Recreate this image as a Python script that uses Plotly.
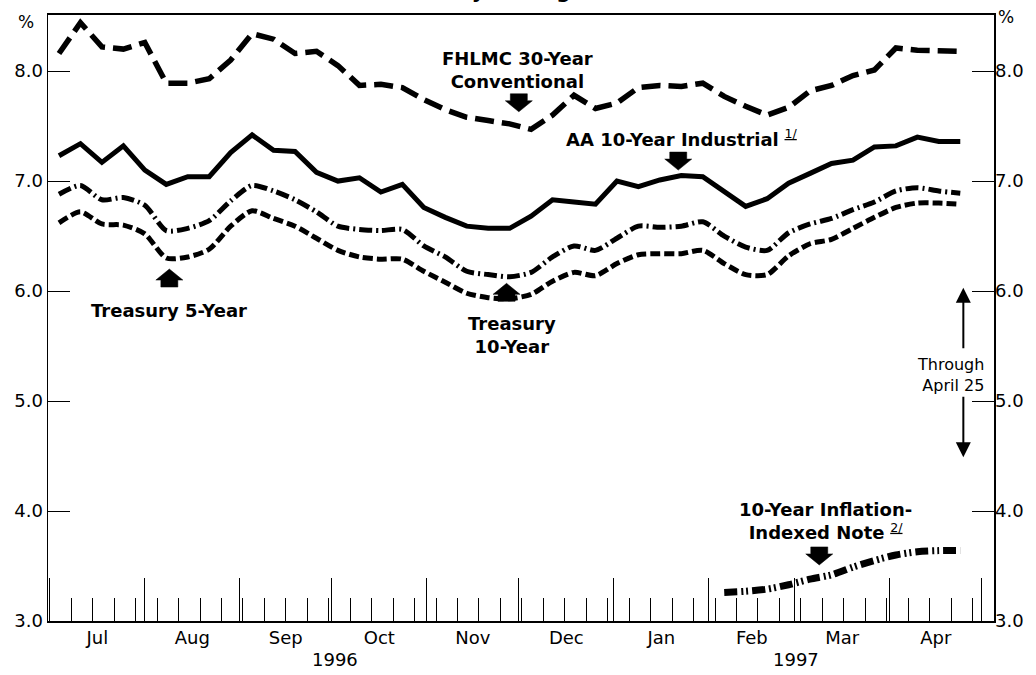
import plotly.graph_objects as go

# ---- data (weekly, Thursdays) ----
dates = ["1996-07-04", "1996-07-11", "1996-07-18", "1996-07-25", "1996-08-01", "1996-08-08",
         "1996-08-15", "1996-08-22", "1996-08-29", "1996-09-05", "1996-09-12", "1996-09-19",
         "1996-09-26", "1996-10-03", "1996-10-10", "1996-10-17", "1996-10-24", "1996-10-31",
         "1996-11-07", "1996-11-14", "1996-11-21", "1996-11-28", "1996-12-05", "1996-12-12",
         "1996-12-19", "1996-12-26", "1997-01-02", "1997-01-09", "1997-01-16", "1997-01-23",
         "1997-01-30", "1997-02-06", "1997-02-13", "1997-02-20", "1997-02-27", "1997-03-06",
         "1997-03-13", "1997-03-20", "1997-03-27", "1997-04-03", "1997-04-10", "1997-04-17",
         "1997-04-24"]

fhlmc_30yr = [8.16, 8.44, 8.22, 8.20, 8.26, 7.89, 7.89, 7.93, 8.10, 8.34, 8.29, 8.16,
              8.18, 8.05, 7.87, 7.88, 7.85, 7.74, 7.65, 7.58, 7.55, 7.52, 7.47, 7.60,
              7.78, 7.66, 7.71, 7.85, 7.87, 7.86, 7.89, 7.77, 7.68, 7.60, 7.67, 7.82,
              7.87, 7.96, 8.01, 8.21, 8.19, 8.19, 8.18]

aa_10yr = [7.23, 7.34, 7.17, 7.32, 7.10, 6.97, 7.04, 7.04, 7.26, 7.42, 7.28, 7.27,
           7.08, 7.00, 7.03, 6.90, 6.97, 6.76, 6.67, 6.59, 6.57, 6.57, 6.68, 6.83,
           6.81, 6.79, 7.00, 6.95, 7.01, 7.05, 7.04, 6.91, 6.77, 6.84, 6.98, 7.07,
           7.16, 7.19, 7.31, 7.32, 7.40, 7.36, 7.36]

treasury_10yr = [6.88, 6.96, 6.83, 6.85, 6.78, 6.55, 6.57, 6.64, 6.82, 6.96, 6.91, 6.83,
                 6.72, 6.59, 6.56, 6.55, 6.56, 6.41, 6.31, 6.18, 6.15, 6.13, 6.17, 6.31,
                 6.41, 6.37, 6.48, 6.59, 6.58, 6.59, 6.63, 6.50, 6.40, 6.37, 6.53, 6.61,
                 6.66, 6.74, 6.81, 6.91, 6.94, 6.91, 6.89]

treasury_5yr = [6.62, 6.72, 6.61, 6.60, 6.52, 6.30, 6.31, 6.38, 6.59, 6.73, 6.66, 6.59,
                6.48, 6.37, 6.31, 6.29, 6.29, 6.18, 6.08, 5.98, 5.94, 5.93, 5.97, 6.09,
                6.17, 6.14, 6.25, 6.33, 6.34, 6.34, 6.37, 6.25, 6.15, 6.15, 6.32, 6.43,
                6.47, 6.57, 6.67, 6.76, 6.80, 6.80, 6.79]

tips_dates = ["1997-02-06", "1997-02-13", "1997-02-20", "1997-02-27", "1997-03-06", "1997-03-13",
              "1997-03-20", "1997-03-27", "1997-04-03", "1997-04-10", "1997-04-17", "1997-04-24"]
tips_10yr = [3.26, 3.27, 3.29, 3.33, 3.38, 3.42, 3.49, 3.55, 3.60, 3.63, 3.64, 3.64]

y_ticks = [3.0, 4.0, 5.0, 6.0, 7.0, 8.0]

FONT = "DejaVu Sans"
BLACK = "black"

fig = go.Figure()

fig.add_trace(go.Scatter(x=dates, y=fhlmc_30yr, mode="lines", hoverinfo="skip",
                         line=dict(color=BLACK, width=5.5, dash="19px,8px")))
fig.add_trace(go.Scatter(x=dates, y=aa_10yr, mode="lines", hoverinfo="skip",
                         line=dict(color=BLACK, width=5)))
fig.add_trace(go.Scatter(x=dates, y=treasury_10yr, mode="lines", hoverinfo="skip",
                         line=dict(color=BLACK, width=5, dash="13px,4px,2px,4px",
                                   shape="spline", smoothing=0.7)))
fig.add_trace(go.Scatter(x=dates, y=treasury_5yr, mode="lines", hoverinfo="skip",
                         line=dict(color=BLACK, width=5, dash="10px,4px",
                                   shape="spline", smoothing=0.7)))
fig.add_trace(go.Scatter(x=tips_dates, y=tips_10yr, mode="lines", hoverinfo="skip", yaxis="y2",
                         line=dict(color=BLACK, width=7, dash="13px,4px,2px,3px,2px,4px",
                                   shape="spline", smoothing=0.8)))

# block arrows (pixel-sized shapes anchored in data space)
DOWN = "M0,0 L-13.5,11 L-8.5,11 L-8.5,18 L8.5,18 L8.5,11 L13.5,11 Z"
UP = "M0,0 L-13.5,-11 L-8.5,-11 L-8.5,-18 L8.5,-18 L8.5,-11 L13.5,-11 Z"
arrows = [
    ("1996-12-01", 7.63, DOWN),   # FHLMC
    ("1997-01-22", 7.10, DOWN),   # AA industrial
    ("1996-08-09", 6.20, UP),     # Treasury 5-year
    ("1996-11-27", 6.07, UP),     # Treasury 10-year
    ("1997-03-09", 3.51, DOWN),   # inflation-indexed
]
shapes = []
for xa, ya, p in arrows:
    shapes.append(dict(type="path", xref="x", yref="y", xsizemode="pixel", ysizemode="pixel",
                       xanchor=xa, yanchor=ya, path=p, fillcolor=BLACK,
                       line=dict(color=BLACK, width=0.5)))

bold = dict(family=FONT, size=18, color=BLACK)
ann = [
    dict(x="1996-11-30 10:00", y=8.01, text="<b>FHLMC 30-Year<br>Conventional</b>",
         xanchor="center", yanchor="middle"),
    dict(x="1996-12-15 17:00", y=7.39, text="<b>AA 10-Year Industrial</b> <sup><u>1/</u></sup>",
         xanchor="left", yanchor="middle"),
    dict(x="1996-08-09", y=5.82, text="<b>Treasury 5-Year</b>", xanchor="center", yanchor="middle"),
    dict(x="1996-11-28 19:00", y=5.60, text="<b>Treasury<br>10-Year</b>",
         xanchor="center", yanchor="middle"),
    dict(x="1997-03-11", y=3.91, text="<b>10-Year Inflation-<br>Indexed Note</b> <sup><u>2/</u></sup>",
         xanchor="center", yanchor="middle"),
]
annotations = []
for a in ann:
    a.update(xref="x", yref="y", showarrow=False, font=bold)
    annotations.append(a)

annotations += [
    dict(x="1997-05-02 10:00", y=5.24, xref="x", yref="y", text="Through<br>April 25",
         showarrow=False, xanchor="right", yanchor="middle", align="right",
         font=dict(family=FONT, size=16, color=BLACK)),
    dict(x="1997-04-25", y=6.03, xref="x", yref="y", text="", showarrow=True,
         ax=0, ay=62, arrowhead=2, arrowsize=1.5, arrowwidth=2, arrowcolor=BLACK),
    dict(x="1997-04-25", y=4.49, xref="x", yref="y", text="", showarrow=True,
         ax=0, ay=-62, arrowhead=2, arrowsize=1.5, arrowwidth=2, arrowcolor=BLACK),
    dict(x=-0.023, y=0.988, xref="paper", yref="paper", text="%", showarrow=False,
         xanchor="center", yanchor="middle", font=dict(family=FONT, size=17, color=BLACK)),
    dict(x=1.0127, y=0.997, xref="paper", yref="paper", text="%", showarrow=False,
         xanchor="center", yanchor="middle", font=dict(family=FONT, size=17, color=BLACK)),
    dict(x="1996-10-02", y=-0.064, xref="x", yref="paper", text="1996", showarrow=False,
         xanchor="center", yanchor="middle", font=dict(family=FONT, size=18, color=BLACK)),
    dict(x="1997-03-01 12:00", y=-0.064, xref="x", yref="paper", text="1997", showarrow=False,
         xanchor="center", yanchor="middle", font=dict(family=FONT, size=18, color=BLACK)),
    dict(x=0.4768, y=1.0165, xref="paper", yref="paper", text="<b>Weekly Averages</b>",
         showarrow=False, xanchor="center", yanchor="bottom",
         font=dict(family=FONT, size=20, color=BLACK)),
]

fig.update_layout(
    width=1036, height=675,
    margin=dict(l=48, r=40, t=15, b=54, pad=0),
    paper_bgcolor="white", plot_bgcolor="white",
    showlegend=False,
    font=dict(family=FONT, size=18, color=BLACK),
    xaxis=dict(type="date", range=["1996-06-30 10:00", "1997-05-05"],
               showgrid=False, zeroline=False,
               showline=True, linecolor=BLACK, linewidth=1.8, mirror=True,
               ticks="inside", ticklen=43, tickwidth=1, tickcolor=BLACK,
               dtick="M1", tick0="1996-07-01", tickformat="%b", ticklabelmode="period",
               tickfont=dict(family=FONT, size=18, color=BLACK),
               minor=dict(ticks="inside", ticklen=23, tickwidth=1, tickcolor=BLACK,
                          dtick=7 * 86400000, tick0="1996-07-01", showgrid=False)),
    yaxis=dict(range=[3.0, 8.51], showgrid=False, zeroline=False,
               showline=True, linecolor=BLACK, linewidth=1.5, mirror=True,
               ticks="inside", ticklen=22, tickwidth=1, tickcolor=BLACK,
               tickvals=y_ticks, tickformat=".1f",
               tickfont=dict(family=FONT, size=18, color=BLACK)),
    yaxis2=dict(range=[3.0, 8.51], overlaying="y", side="right", showgrid=False, zeroline=False,
                showline=False, ticks="inside", ticklen=22, tickwidth=1, tickcolor=BLACK,
                tickvals=y_ticks, tickformat=".1f",
                tickfont=dict(family=FONT, size=18, color=BLACK)),
    shapes=shapes,
    annotations=annotations,
)

fig.write_html(
    "out.html",
    config={"displayModeBar": False, "staticPlot": True},
    post_script="document.body.style.margin='0';document.body.style.overflow='hidden';",
)
